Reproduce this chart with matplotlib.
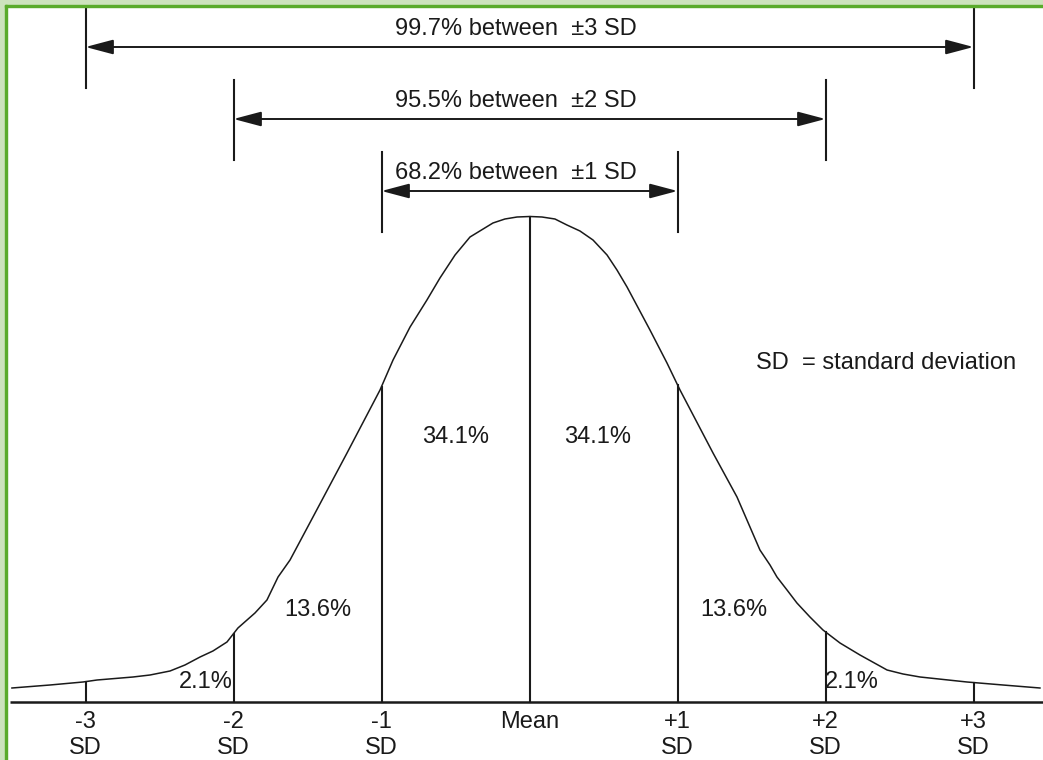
import matplotlib
matplotlib.use("Agg")
import matplotlib.pyplot as plt
from matplotlib.patches import Rectangle
import numpy as np

# Courbe en cloche (x en SD, hauteur au-dessus de l'axe)
curve_x = [-3.497, -3.240, -3.017, -2.922, -2.679, -2.564, -2.429, -2.328, -2.226,
           -2.139, -2.044, -1.970, -1.855, -1.774, -1.699, -1.618, -1.463, -1.233,
           -1.010, -0.922, -0.807, -0.693, -0.605, -0.503, -0.402, -0.247, -0.166,
           -0.084, 0.003, 0.084, 0.172, 0.253, 0.341, 0.429, 0.524, 0.591, 0.659,
           0.814, 0.929, 1.017, 1.240, 1.402, 1.557, 1.625, 1.672, 1.740, 1.807,
           1.895, 1.983, 2.098, 2.233, 2.416, 2.524, 2.639, 2.956, 3.199, 3.449]
curve_h = [14, 17, 20, 22, 25, 27, 31, 37, 45,
           51, 60, 74, 89, 102, 125, 142, 185, 249,
           312, 342, 375, 402, 424, 447, 465, 479, 483,
           485, 485.5, 485, 483, 477, 471, 462, 447, 432, 415,
           372, 339, 312, 249, 205, 152, 137, 125, 112, 99,
           85, 72, 59, 47, 32, 28, 25, 20, 17, 14]

sd_positions = [-3, -2, -1, 0, 1, 2, 3]
tick_top = ["-3", "-2", "-1", "Mean", "+1", "+2", "+3"]
tick_bottom = ["SD", "SD", "SD", "", "SD", "SD", "SD"]

# pourcentages par zone
zone_labels = ["2.1%", "13.6%", "34.1%", "34.1%", "13.6%", "2.1%"]
zone_x = [-2.19, -1.43, -0.50, 0.46, 1.38, 2.18]
zone_y = [20, 92, 265, 265, 92, 20]

# fleches du haut
span_sd = [3, 2, 1]
span_labels = ["99.7% between  \u00b13 SD", "95.5% between  \u00b12 SD", "68.2% between  \u00b11 SD"]
span_y = [655, 583, 511]

ink = "#1a1a1a"
fs = 17
plt.rcParams['font.family'] = ['Liberation Sans', 'DejaVu Sans']

fig = plt.figure(figsize=(10.43, 7.60), dpi=100)
ax = fig.add_axes([0, 0, 1, 1])
ax.set_xlim((0 - 529.5) / 148, (1043 - 529.5) / 148)
ax.set_ylim(-58, 702)
ax.axis("off")

# bordure verte (haut et gauche)
fig.patches.append(Rectangle((0, 1 - 5 / 760), 1, 5 / 760, transform=fig.transFigure,
                             color="#cde3bd", zorder=0))
fig.patches.append(Rectangle((0, 0), 5 / 1043, 1, transform=fig.transFigure,
                             color="#cde3bd", zorder=0))
fig.patches.append(Rectangle((5 / 1043, 1 - 7 / 760), 1, 2 / 760, transform=fig.transFigure,
                             color="#5aab2b", zorder=1))
fig.patches.append(Rectangle((5 / 1043, 0), 2 / 1043, 1 - 5 / 760, transform=fig.transFigure,
                             color="#5aab2b", zorder=1))

# axe horizontal
ax.plot([(10 - 529.5) / 148, 4], [0, 0], color=ink, lw=1.8, solid_capstyle="butt")

# courbe
ax.plot(curve_x, curve_h, color=ink, lw=1.1)

# lignes verticales jusqu'a la courbe
for sd in sd_positions:
    top = np.interp(sd, curve_x, curve_h)
    ax.plot([sd, sd], [0, top], color=ink, lw=1.5)

# etiquettes de l'axe
for sd, t1, t2 in zip(sd_positions, tick_top, tick_bottom):
    ax.text(sd, -20, t1, ha="center", va="center", fontsize=fs, color=ink)
    if t2:
        ax.text(sd, -46, t2, ha="center", va="center", fontsize=fs, color=ink)

for lab, x, y in zip(zone_labels, zone_x, zone_y):
    ax.text(x, y, lab, ha="center", va="center", fontsize=fs, color=ink)

ax.text(1.53, 339, "SD  = standard deviation", ha="left", va="center", fontsize=fs, color=ink)

# fleches +/- n SD
for sd, lab, y in zip(span_sd, span_labels, span_y):
    ax.plot([-sd, -sd], [y - 41, y + 39], color=ink, lw=1.5)
    ax.plot([sd, sd], [y - 41, y + 39], color=ink, lw=1.5)
    ax.annotate("", xy=(sd, y), xytext=(-sd, y),
                arrowprops=dict(arrowstyle="<|-|>,head_length=1.7,head_width=0.45",
                                color=ink, lw=1.4, shrinkA=0, shrinkB=0,
                                mutation_scale=10))
    ax.text(-0.09, y + 18, lab, ha="center", va="center", fontsize=fs, color=ink)

fig.savefig("out.png", dpi=100, facecolor="white")
plt.close(fig)
